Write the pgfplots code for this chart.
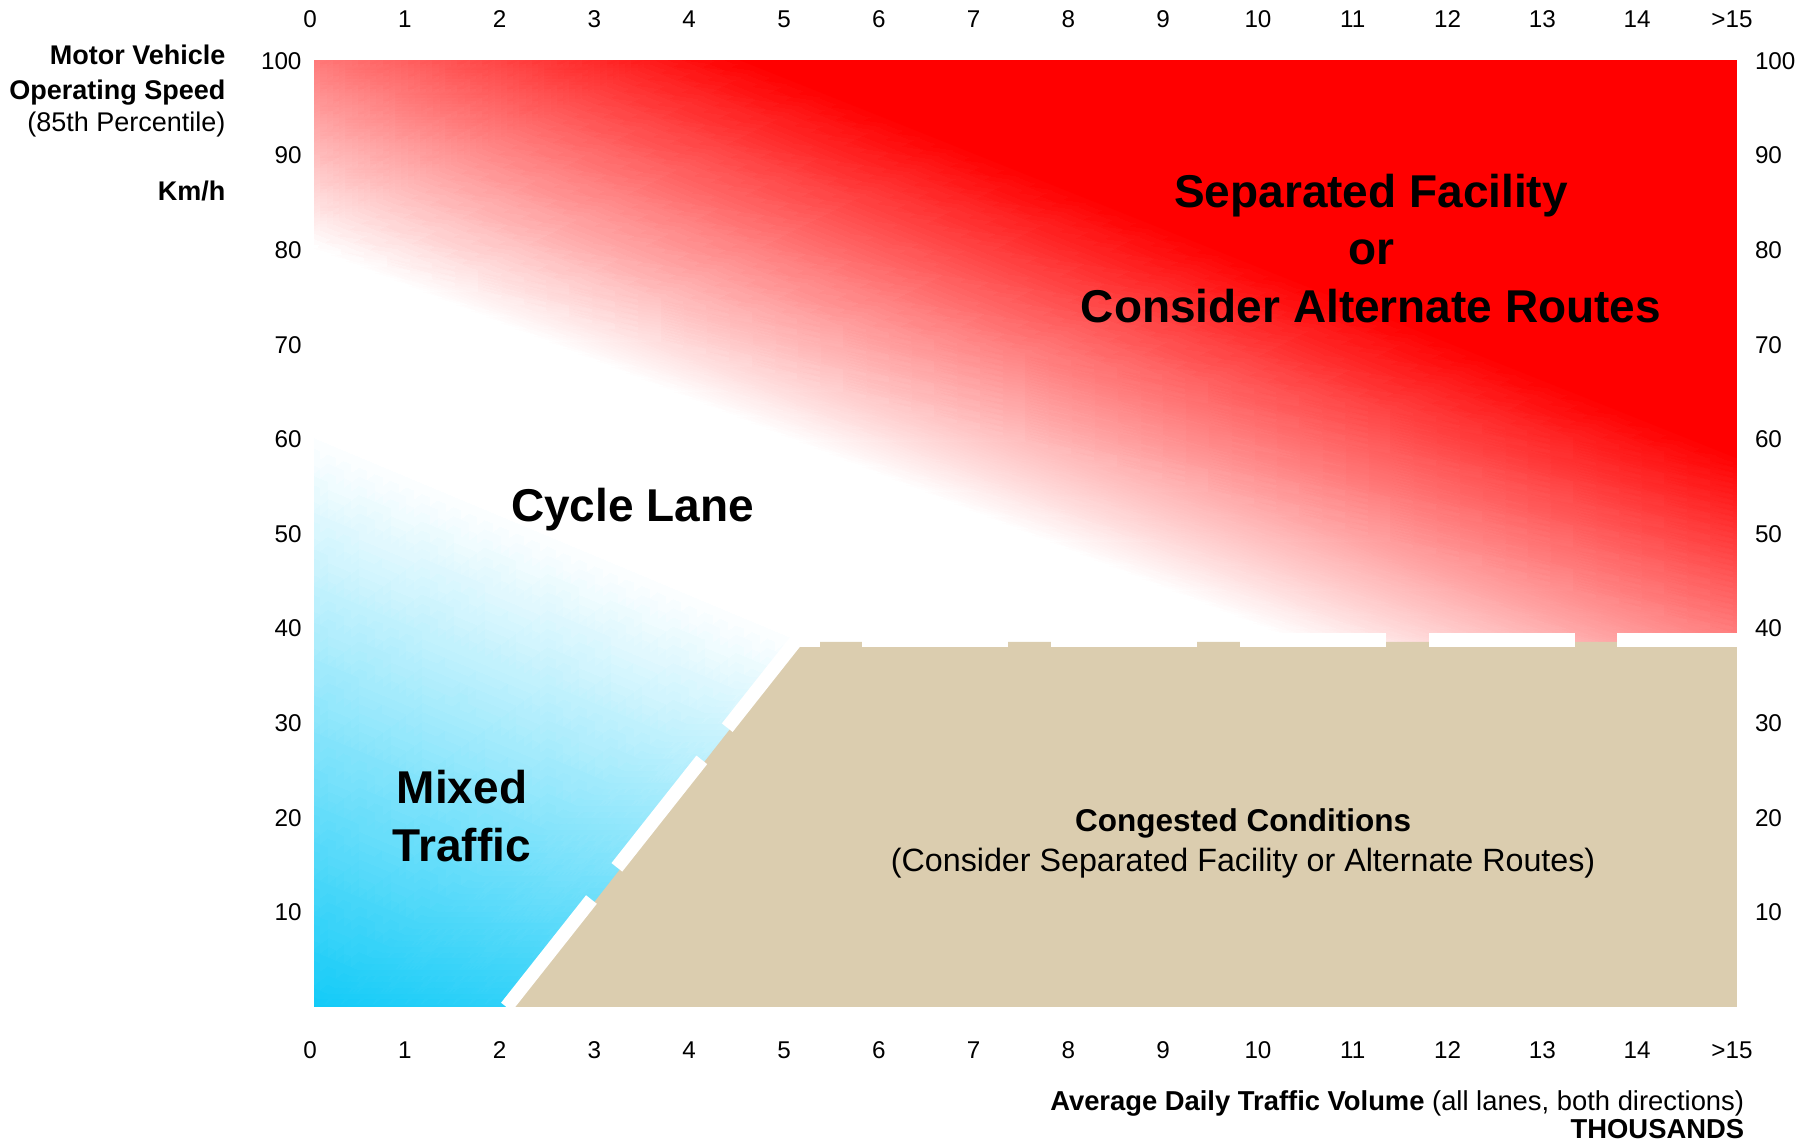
\documentclass[border=0pt]{standalone}
\usepackage{fontspec}
\setmainfont{Liberation Sans}
\usepackage{pgfplots}
\pgfplotsset{compat=1.18}
\definecolor{beige}{RGB}{219,205,175}
\begin{document}
\begin{tikzpicture}
\path[use as bounding box] (-126pt,-54.4pt) rectangle (598pt,402.8pt);
\begin{axis}[at={(0,0)}, anchor=south west, scale only axis,
  width=568.8pt, height=378.4pt,
  xmin=0, xmax=15, ymin=0, ymax=100,
  axis line style={draw=none}, major tick length=0pt,
  xtick={0,1,...,15},
  xticklabels={0,1,2,3,4,5,6,7,8,9,10,11,12,13,14,{>15}},
  ytick={10,20,...,100},
  yticklabels={10,20,30,40,50,60,70,80,90,100},
  tick label style={font=\fontsize{9.7pt}{11pt}\selectfont, inner sep=0pt},
  xticklabel style={anchor=center, yshift=-17.2pt, xshift=-2pt},
  yticklabel style={anchor=east, xshift=-5.2pt},
  clip mode=individual]
% red gradient band
\addplot[patch, patch type=triangle, shader=interp, mesh/color input=explicit]
table[meta=c] {
x y c
-0.2 80.8 rgb=1,1,1
-0.2 102 rgb=1,0.442,0.442
4 102 rgb=1,0,0
-0.2 80.8 rgb=1,1,1
4 102 rgb=1,0,0
15.2 57.2 rgb=1,0,0
-0.2 80.8 rgb=1,1,1
15.2 57.2 rgb=1,0,0
15.2 38.6 rgb=1,0.489,0.489
-0.2 80.8 rgb=1,1,1
15.2 38.6 rgb=1,0.489,0.489
10.35 38.6 rgb=1,1,1
};
% solid red
\addplot[fill=red, draw=none] coordinates {(4,102) (15.2,102) (15.2,57.2) (4,102)};
% blue gradient
\addplot[patch, patch type=triangle, shader=interp, mesh/color input=explicit]
table[meta=c] {
x y c
-0.2 -1 rgb=0.05,0.79,0.97
2.5 -1 rgb=0.2,0.823,0.975
5.1 38.6 rgb=1,1,1
-0.2 -1 rgb=0.05,0.79,0.97
5.1 38.6 rgb=1,1,1
-0.2 60.84 rgb=1,1,1
};
% congested area
\addplot[fill=beige, draw=none] coordinates {(2.0,-1) (5.1,38.6) (15.2,38.6) (15.2,-1) (2.0,-1)};
% dashed boundary
\addplot[white, line width=5.5pt, dash pattern=on 54.8pt off 16.4pt] coordinates {(2.02,0) (5.08,38.8)};
\addplot[white, line width=5.5pt, dash pattern=on 58.4pt off 17.1pt, dash phase=49.2pt] coordinates {(5.08,38.8) (15.2,38.8)};
% region labels
\begin{scope}[font=\bfseries\fontsize{18.4pt}{22pt}\selectfont]
\node[anchor=base] at (axis cs:11.14,84.56) {Separated Facility};
\node[anchor=base] at (axis cs:11.14,78.46) {or};
\node[anchor=base] at (axis cs:11.14,72.36) {Consider Alternate Routes};
\node[anchor=base] at (axis cs:3.35,51.36) {Cycle Lane};
\node[anchor=base] at (axis cs:1.55,21.46) {Mixed};
\node[anchor=base] at (axis cs:1.55,15.36) {Traffic};
\end{scope}
\node[anchor=base, font=\bfseries\fontsize{12.6pt}{15pt}\selectfont] at (axis cs:9.79,18.6) {Congested Conditions};
\node[anchor=base, font=\fontsize{12.9pt}{15pt}\selectfont] at (axis cs:9.79,14.3) {(Consider Separated Facility or Alternate Routes)};
% axis titles
\begin{scope}[font=\fontsize{10.8pt}{13pt}\selectfont, inner sep=0pt]
\node[anchor=base east, font=\bfseries\fontsize{10.8pt}{13pt}\selectfont] at (axis cs:-0.94,99.58) {Motor Vehicle};
\node[anchor=base east, font=\bfseries\fontsize{10.8pt}{13pt}\selectfont] at (axis cs:-0.94,95.88) {Operating Speed};
\node[anchor=base east] at (axis cs:-0.94,92.5) {(85th Percentile)};
\node[anchor=base east, font=\bfseries\fontsize{10.8pt}{13pt}\selectfont] at (axis cs:-0.94,85.3) {Km/h};
\node[anchor=base east, font=\fontsize{10.95pt}{13pt}\selectfont] at (axis cs:15.08,-10.9) {\textbf{Average Daily Traffic Volume} (all lanes, both directions)};
\node[anchor=base east, font=\bfseries\fontsize{10.95pt}{13pt}\selectfont] at (axis cs:15.08,-13.85) {THOUSANDS};
\end{scope}
\end{axis}
\begin{axis}[at={(0,0)}, anchor=south west, scale only axis,
  width=568.8pt, height=378.4pt,
  xmin=0, xmax=15, ymin=0, ymax=100,
  axis line style={draw=none}, major tick length=0pt,
  xtick={0,1,...,15},
  xticklabels={0,1,2,3,4,5,6,7,8,9,10,11,12,13,14,{>15}},
  ytick={10,20,...,100},
  yticklabels={10,20,30,40,50,60,70,80,90,100},
  xticklabel pos=right, yticklabel pos=right,
  tick label style={font=\fontsize{9.7pt}{11pt}\selectfont, inner sep=0pt},
  xticklabel style={anchor=center, yshift=16.6pt, xshift=-2pt},
  yticklabel style={anchor=west, xshift=7pt}]
\end{axis}
\end{tikzpicture}
\end{document}
